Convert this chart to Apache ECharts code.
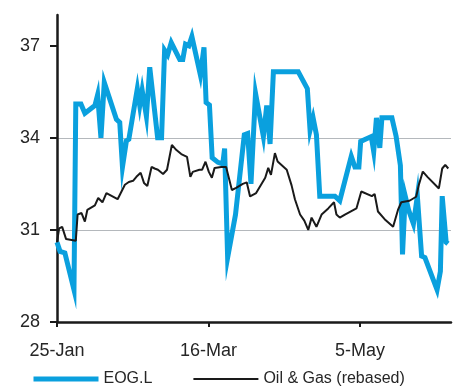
<!DOCTYPE html>
<html><head><meta charset="utf-8">
<script src="https://cdn.jsdelivr.net/npm/echarts@6/dist/echarts.min.js"></script>
<style>html,body{margin:0;padding:0;background:#fff}#c{width:459px;height:389px}</style>
</head><body><div id="c"></div>
<script>
// Days counted from 25-Jan
const eogDays = [0, 1, 2.6, 5.6, 6.2, 7.9, 9.2, 12.5, 13.4, 14.5, 15.6, 19.6, 20.7, 21.6, 22.9, 23.7, 26.5, 27.3, 28.1, 29.5, 30.6, 33.2, 34.5, 35.5, 36.5, 37.7, 40.5, 41.5, 42.4, 43.5, 44.5, 47.3, 48.5, 49.2, 50.3, 51.2, 53.1, 54.7, 55.3, 56.3, 58.9, 61.8, 62.9, 64.0, 65.5, 68.1, 69.2, 70.3, 71.4, 79.6, 82.6, 83.5, 84.5, 85.6, 86.7, 91.7, 93.3, 97.1, 98.3, 99.6, 100.2, 103.7, 104.5, 105.4, 106.5, 107.2, 110.5, 111.9, 113.3, 114.0, 114.9, 116.0, 117.6, 118.9, 120.3, 121.4, 125.4, 126.5, 127.1, 128.4, 129.0];
const eogValues = [30.6, 30.3, 30.25, 29.05, 35.1, 35.1, 34.8, 35.05, 35.4, 34.0, 35.8, 34.6, 34.5, 33.05, 33.9, 33.95, 35.6, 35.05, 35.55, 34.7, 36.3, 34.0, 34.0, 36.85, 36.7, 37.1, 36.55, 36.55, 37.05, 37.0, 37.3, 36.05, 36.95, 35.15, 35.07, 33.35, 33.2, 33.15, 33.65, 30.1, 31.5, 34.1, 34.14, 32.5, 35.45, 34.04, 35.05, 33.8, 36.15, 36.15, 35.6, 34.25, 34.65, 34.1, 32.1, 32.1, 31.95, 33.4, 33.05, 33.05, 33.88, 34.04, 33.55, 34.65, 33.67, 34.65, 34.65, 34.04, 33.1, 30.2, 32.1, 31.65, 31.2, 32.1, 30.15, 30.1, 29.05, 29.65, 32.1, 30.6, 30.55];

const oilDays = [0, 0.7, 1.7, 3.0, 6.2, 6.8, 8.1, 9.2, 10.0, 12.5, 13.6, 15.0, 16.3, 20.0, 22.4, 23.7, 25.1, 26.2, 27.6, 28.7, 29.8, 31.2, 32.2, 33.3, 35.0, 36.3, 37.9, 39.4, 41.0, 42.9, 44.0, 44.8, 47.0, 47.9, 49.0, 50.1, 51.1, 52.0, 54.2, 55.8, 57.7, 59.1, 61.3, 62.6, 63.7, 65.7, 68.7, 69.7, 70.6, 71.9, 72.8, 75.8, 77.4, 78.5, 80.2, 81.6, 82.9, 84.0, 85.6, 87.3, 89.5, 91.4, 92.2, 93.3, 95.0, 98.8, 100.4, 103.9, 104.8, 105.9, 108.1, 110.9, 112.5, 113.6, 116.3, 118.5, 119.4, 120.7, 122.3, 126.0, 127.1, 128.1, 129.1];
const oilValues = [30.6, 31.05, 31.1, 30.7, 30.65, 31.5, 31.55, 31.27, 31.65, 31.8, 32.04, 31.9, 32.2, 32.0, 32.47, 32.56, 32.6, 32.73, 32.86, 32.53, 32.43, 33.05, 33.0, 32.96, 32.82, 32.96, 33.77, 33.6, 33.47, 33.38, 32.73, 32.89, 32.96, 32.96, 33.22, 32.89, 32.7, 33.02, 33.05, 33.05, 32.3, 32.37, 32.5, 32.55, 32.09, 32.2, 32.7, 33.02, 32.79, 33.5, 33.23, 32.96, 32.45, 32.0, 31.5, 31.3, 31.0, 31.4, 31.1, 31.5, 31.7, 31.9, 31.5, 31.4, 31.5, 31.7, 32.25, 32.1, 32.17, 31.6, 31.35, 31.1, 31.65, 31.9, 31.95, 32.08, 32.47, 32.9, 32.72, 32.35, 33.0, 33.12, 33.0];

const xTickDays = [0, 50, 100];
const xTickLabels = ['25-Jan', '16-Mar', '5-May'];
const yTicks = [28, 31, 34, 37];
const seriesNames = ['EOG.L', 'Oil & Gas (rebased)'];

function pairs(xs, ys) { return xs.map((x, i) => [x, ys[i]]); }

const FONT = 'Liberation Sans, Arial, Helvetica, sans-serif';
const chart = echarts.init(document.getElementById('c'), null, {renderer: 'canvas'});
chart.setOption({
  animation: false,
  backgroundColor: '#ffffff',
  grid: {left: 57, right: 8, top: 15, bottom: 67},
  xAxis: {
    type: 'value', min: 0, max: 130,
    axisLine: {show: true, onZero: false, lineStyle: {color: '#1a1a1a', width: 2.5}},
    axisTick: {show: true, customValues: xTickDays, length: 5, lineStyle: {color: '#1a1a1a', width: 2}},
    axisLabel: {customValues: xTickDays, formatter: v => xTickLabels[xTickDays.indexOf(v)] || '',
      fontSize: 18, color: '#262626', margin: 20, fontFamily: FONT},
    splitLine: {show: false}
  },
  yAxis: {
    type: 'value', min: 28, max: 38,
    axisLine: {show: true, onZero: false, lineStyle: {color: '#1a1a1a', width: 2.5}},
    axisTick: {show: true, customValues: yTicks, length: 7, lineStyle: {color: '#1a1a1a', width: 2}},
    axisLabel: {customValues: yTicks, fontSize: 18, color: '#262626', margin: 17, fontFamily: FONT},
    splitLine: {show: true, showMaxLine: false, lineStyle: {color: '#b4b8bc', width: 1}}
  },
  legend: {
    left: 31, top: 371, padding: 0, itemWidth: 65, itemHeight: 14, itemGap: 40,
    data: seriesNames,
    lineStyle: {width: 'inherit'},
    itemStyle: {opacity: 0},
    textStyle: {fontSize: 16, color: '#262626', fontFamily: FONT, padding: [5, 0, 0, 0]}
  },
  series: [
    {name: seriesNames[0], type: 'line', data: pairs(eogDays, eogValues), symbol: 'none', showSymbol: false,
      lineStyle: {color: '#0aa0de', width: 5, join: 'miter'}, itemStyle: {color: '#0aa0de'}, z: 3},
    {name: seriesNames[1], type: 'line', data: pairs(oilDays, oilValues), symbol: 'none', showSymbol: false,
      lineStyle: {color: '#1a1a1a', width: 2}, itemStyle: {color: '#1a1a1a'}, z: 4}
  ]
});
</script></body></html>
